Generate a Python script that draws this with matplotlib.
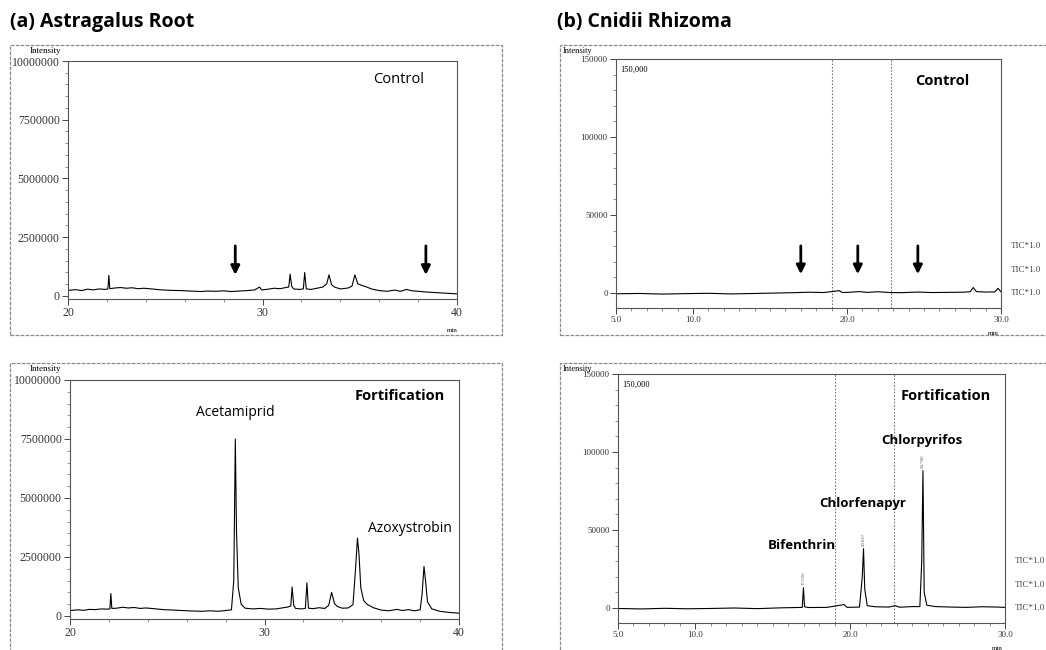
import numpy as np
import matplotlib
matplotlib.use("Agg")
import matplotlib.pyplot as plt
from matplotlib.patches import Rectangle
from matplotlib.ticker import AutoMinorLocator

W, H = 1046, 650
SANS = ["Open Sans", "Noto Sans", "DejaVu Sans"]
SERIF = ["Liberation Serif", "DejaVu Serif"]

# (time [min], intensity)
astra_control = [(20.0, 240e3), (20.4, 270e3), (20.7, 230e3), (21.0, 290e3), (21.3, 260e3), (21.6, 300e3),
                 (21.9, 280e3), (22.05, 300e3), (22.1, 880e3), (22.15, 310e3), (22.4, 340e3), (22.7, 360e3),
                 (23.0, 330e3), (23.3, 350e3), (23.6, 310e3), (23.9, 330e3), (24.3, 300e3), (24.8, 260e3),
                 (25.3, 240e3), (25.8, 230e3), (26.3, 210e3), (26.8, 190e3), (27.2, 210e3), (27.6, 200e3),
                 (28.0, 220e3), (28.4, 190e3), (28.8, 210e3), (29.2, 230e3), (29.6, 260e3), (29.85, 380e3),
                 (29.95, 260e3), (30.2, 280e3), (30.6, 330e3), (30.9, 310e3), (31.2, 360e3), (31.35, 380e3),
                 (31.42, 930e3), (31.5, 420e3), (31.6, 300e3), (31.9, 280e3), (32.1, 300e3), (32.17, 1000e3),
                 (32.25, 300e3), (32.5, 280e3), (32.8, 330e3), (33.1, 380e3), (33.3, 520e3), (33.42, 900e3),
                 (33.55, 480e3), (33.7, 380e3), (34.0, 300e3), (34.4, 340e3), (34.6, 420e3), (34.75, 900e3),
                 (34.9, 520e3), (35.1, 450e3), (35.3, 400e3), (35.6, 300e3), (36.0, 230e3), (36.4, 200e3),
                 (36.8, 250e3), (37.1, 200e3), (37.4, 280e3), (37.7, 220e3), (38.0, 200e3), (38.4, 170e3),
                 (38.8, 150e3), (39.2, 130e3), (39.6, 110e3), (40.0, 90e3)]

astra_fortified = [(20.0, 230e3), (20.4, 260e3), (20.7, 240e3), (21.0, 280e3), (21.3, 270e3), (21.6, 300e3),
                   (21.9, 290e3), (22.05, 300e3), (22.1, 950e3), (22.15, 320e3), (22.4, 330e3), (22.7, 370e3),
                   (23.0, 340e3), (23.3, 360e3), (23.6, 320e3), (23.9, 340e3), (24.3, 310e3), (24.8, 270e3),
                   (25.3, 250e3), (25.8, 230e3), (26.3, 210e3), (26.8, 200e3), (27.2, 220e3), (27.6, 200e3),
                   (28.0, 230e3), (28.3, 260e3), (28.42, 1500e3), (28.5, 7500e3), (28.56, 3600e3), (28.65, 1200e3),
                   (28.8, 500e3), (29.0, 330e3), (29.4, 300e3), (29.8, 320e3), (30.2, 290e3), (30.6, 300e3),
                   (30.9, 340e3), (31.2, 380e3), (31.35, 420e3), (31.42, 1230e3), (31.5, 450e3), (31.6, 320e3),
                   (31.9, 300e3), (32.1, 320e3), (32.18, 1400e3), (32.26, 330e3), (32.5, 310e3), (32.8, 350e3),
                   (33.1, 320e3), (33.3, 450e3), (33.45, 1000e3), (33.6, 520e3), (33.75, 400e3), (34.0, 330e3),
                   (34.3, 340e3), (34.55, 480e3), (34.68, 2000e3), (34.78, 3300e3), (34.86, 2600e3), (34.95, 1200e3),
                   (35.1, 650e3), (35.3, 480e3), (35.6, 350e3), (36.0, 250e3), (36.4, 220e3), (36.8, 280e3),
                   (37.1, 230e3), (37.4, 270e3), (37.7, 220e3), (38.0, 260e3), (38.1, 900e3), (38.2, 2100e3),
                   (38.28, 1500e3), (38.38, 600e3), (38.6, 300e3), (39.0, 200e3), (39.5, 150e3), (40.0, 120e3)]

cnidii_control = [(5.0, -500), (6.5, -300), (8.0, -700), (9.5, -400), (11.0, -200), (12.5, -600), (14.0, -300),
                  (15.5, 0), (16.5, 200), (17.5, 500), (18.5, 300), (19.5, 1500), (19.7, 300), (20.2, 500),
                  (20.8, 900), (21.3, 400), (22.0, 800), (22.8, 300), (23.5, 200), (24.6, 600), (25.5, 300),
                  (26.5, 400), (27.5, 500), (28.0, 800), (28.2, 3500), (28.4, 900), (29.0, 600), (29.6, 700),
                  (29.8, 3000), (30.0, 800)]

cnidii_fortified = [(5.0, -300), (6.5, -600), (8.0, -200), (9.5, -500), (11.0, -300), (12.5, 0), (14.0, -400),
                    (15.5, 100), (16.5, 300), (16.9, 400), (16.98, 13000), (17.05, 800), (17.3, 300), (18.5, 400),
                    (19.6, 2200), (19.8, 400), (20.6, 600), (20.78, 20000), (20.86, 38000), (20.94, 12000),
                    (21.1, 1500), (21.6, 800), (22.5, 600), (22.9, 1500), (23.2, 500), (24.0, 900), (24.5, 900),
                    (24.62, 30000), (24.7, 88000), (24.78, 10000), (24.95, 1800), (25.5, 900), (26.5, 600),
                    (27.5, 400), (28.5, 800), (29.5, 600), (30.0, 400)]

# arrows marking analyte positions in the controls
astra_arrows = [28.6, 38.4]
cnidii_arrows = [17.0, 20.7, 24.6]
cnidii_windows = [19.0, 22.85]

# peak labels: (text, time, intensity)
astra_labels = [("Acetamiprid", 28.5, 8.64e6), ("Azoxystrobin", 37.5, 3.7e6)]
cnidii_labels = [("Bifenthrin", 16.9, 39900), ("Chlorfenapyr", 20.8, 67000), ("Chlorpyrifos", 24.6, 107500)]
cnidii_rt = [("17.026", 17.0, 14500), ("20.867", 20.86, 39500), ("24.700", 24.7, 89500)]

astra_yticks = [0, 2500000, 5000000, 7500000, 10000000]
cnidii_yticks = [0, 50000, 100000, 150000]
astra_xticks = [20, 30, 40]
cnidii_xticks = [5, 10, 20, 30]


def px_axes(fig, left, top, right, bottom):
    return fig.add_axes([left / W, 1 - bottom / H, (right - left) / W, (bottom - top) / H])


def frame(fig, left, top, right, bottom):
    fig.add_artist(Rectangle((left / W, 1 - bottom / H), (right - left) / W, (bottom - top) / H,
                             transform=fig.transFigure, fill=False, ec="#8a8a8a", lw=0.9,
                             ls=(0, (3, 1))))


def style(ax, xlim, ylim, xticks, yticks, xfmt, size):
    ax.set_xlim(*xlim)
    ax.set_ylim(*ylim)
    ax.set_xticks(xticks)
    ax.set_xticklabels([xfmt.format(v) for v in xticks], family=SERIF, fontsize=size, color="#333")
    ax.set_yticks(yticks)
    ax.set_yticklabels([str(v) for v in yticks], family=SERIF, fontsize=size, color="#333")
    ax.xaxis.set_minor_locator(AutoMinorLocator(5))
    ax.yaxis.set_minor_locator(AutoMinorLocator(5))
    ax.tick_params(which="major", length=4, width=0.7, color="#444", pad=2)
    ax.tick_params(which="minor", length=2, width=0.5, color="#666")
    for s in ax.spines.values():
        s.set_color("#555")
        s.set_linewidth(0.8)


def trace(ax, pts):
    t, y = np.array(pts).T
    ax.plot(t, y, color="black", lw=0.8)


def arrows(ax, xs, y0, y1):
    for x in xs:
        ax.annotate("", xy=(x, y1), xytext=(x, y0),
                    arrowprops=dict(arrowstyle="-|>", color="black", lw=2.0, mutation_scale=13))


fig = plt.figure(figsize=(W / 100, H / 100), dpi=100)

fig.text(10 / W, 1 - 22 / H, "(a) Astragalus Root", family=SANS, fontsize=14, weight="bold", va="center")
fig.text(557 / W, 1 - 22 / H, "(b) Cnidii Rhizoma", family=SANS, fontsize=14, weight="bold", va="center")

for top, bot in [(45, 335), (363, 660)]:
    frame(fig, 10, top, 502, bot)
    frame(fig, 560, top, 1060, bot)
    fig.text(45 / W, 1 - (top + 6) / H, "Intensity", family=SERIF, fontsize=6.5, ha="center", va="center")
    fig.text(578 / W, 1 - (top + 6) / H, "Intensity", family=SERIF, fontsize=6, ha="center", va="center")

# (a) Astragalus Root
ax = px_axes(fig, 68, 61, 457, 299)
style(ax, (20, 40), (-128000, 10e6), astra_xticks, astra_yticks, "{:d}", 8.5)
trace(ax, astra_control)
arrows(ax, astra_arrows, 2.25e6, 0.78e6)
ax.text(37.0, 9.23e6, "Control", family=SANS, fontsize=10.5, ha="center", va="center")
fig.text(452 / W, 1 - 331 / H, "min", family=SERIF, fontsize=5, ha="center", va="center")

ax = px_axes(fig, 70, 380, 459, 619)
style(ax, (20, 40), (-128000, 10e6), astra_xticks, astra_yticks, "{:d}", 8.5)
trace(ax, astra_fortified)
for name, t, y in astra_labels:
    ax.text(t, y, name, family=SANS, fontsize=10, ha="center", va="center")
ax.text(36.97, 9.32e6, "Fortification", family=SANS, fontsize=10.5, weight="bold", ha="center", va="center")

# (b) Cnidii Rhizoma
for (l, t, r, b), pts, kind in [((616, 59, 1001, 308), cnidii_control, "Control"),
                                ((618, 374, 1005, 623), cnidii_fortified, "Fortification")]:
    ax = px_axes(fig, l, t, r, b)
    zero = b - 15
    ylo = -(b - zero) / (zero - t) * 150000
    style(ax, (5, 30), (ylo, 150000), cnidii_xticks, cnidii_yticks, "{:.1f}", 6.5)
    for x in cnidii_windows:
        ax.axvline(x, color="#777", lw=0.8, ls=(0, (1.5, 1.5)))
    trace(ax, pts)
    ax.text(5.3, 143000, "150,000", family=SERIF, fontsize=6, va="center")
    ax.text(26.2, 136000, kind, family=SANS, fontsize=10.5, weight="bold", ha="center", va="center")
    fig.text((r - 8) / W, 1 - (b + 25) / H, "min", family=SERIF, fontsize=5, ha="center", va="center")
    for i, dy in enumerate([47, 23, 0]):
        fig.text((r + 10) / W, 1 - (zero - dy) / H, "TIC*1.0", family=SERIF, fontsize=6.5,
                 color="#444", va="center")
    if kind == "Control":
        arrows(ax, cnidii_arrows, 32000, 10300)
    else:
        for name, x, y in cnidii_labels:
            ax.text(x, y, name, family=SANS, fontsize=9.5, weight="bold", ha="center", va="center")
        for rt, x, y in cnidii_rt:
            ax.text(x, y, rt, family=SERIF, fontsize=3.5, rotation=90, ha="center", va="bottom", color="#555")

fig.savefig("out.png", dpi=100)
